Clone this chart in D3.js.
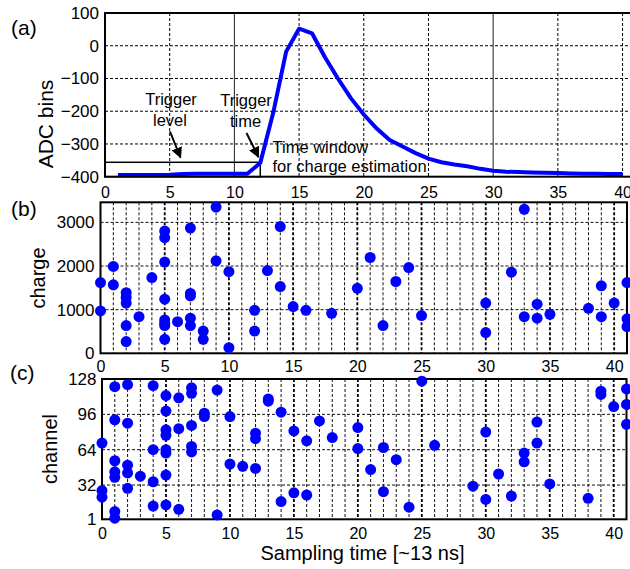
<!DOCTYPE html>
<html><head><meta charset="utf-8">
<script src="https://cdn.jsdelivr.net/npm/d3@7"></script>
<style>
html,body{margin:0;padding:0;background:#fff;}
svg{display:block;font-family:"Liberation Sans",Arial,sans-serif;}
</style></head>
<body>
<svg id="chart" width="630" height="569"></svg>
<script>
// ---- data ----
const sampleIdx = [1,2,3,4,5,6,7,8,9,10,11,12,13,14,15,16,17,18,19,20,21,22,23,24,25,26,27,28,29,30,31,32,33,34,35,36,37,38,39,40];
const adcValues = [-395,-395,-395,-395,-394,-392,-391,-391,-391,-391,-391,-358,-205,-18,52,38,-35,-100,-160,-210,-253,-288,-308,-328,-345,-356,-363,-368,-376,-382,-385,-386,-387,-388,-389,-390,-391,-391,-392,-392];
const triggerLevel = -356;
const triggerTime = 12;

const chargeT = [0,0,1,1,2,2,2,2,2,3,4,5,5,5,5,5,5,5,5,6,7,7,7,7,7,8,8,9,9,10,10,12,12,13,14,14,15,16,18,20,21,22,23,24,25,30,30,32,33,33,34,34,35,38,39,39,40,41,41,41];
const chargeQ = [1620,970,1990,1570,1390,1280,1150,635,270,840,1735,2800,2650,2090,1240,765,690,635,320,725,2870,1370,1315,805,635,510,320,3350,2120,1870,130,985,510,1895,2905,1530,1070,985,917,1490,2195,635,1645,1965,865,1150,475,1860,3300,840,1125,805,895,1030,1545,840,1150,1620,790,610];

const chanT = [0,0,0,1,1,1,1,1,1,1,2,2,2,2,2,3,4,4,4,4,5,5,5,5,5,5,5,5,6,6,6,7,7,7,7,7,8,8,9,9,10,10,11,12,12,12,13,13,14,14,15,15,16,16,17,18,20,20,21,22,22,23,24,25,26,29,30,30,31,32,33,33,34,34,35,38,39,39,40,41,41,41];
const chanC = [70,27,21,121,91,54,44,39,8,2,123,88,50,43,29,40,122,64,35,13,113,99,82,77,64,61,41,14,111,83,10,120,115,86,67,62,97,94,118,5,94,51,49,79,74,47,110,108,98,17,81,25,72,23,90,75,84,65,46,66,26,55,12,126,68,31,80,19,42,22,61,53,89,70,33,20,117,114,103,119,105,87];

const xTicks = [0,5,10,15,20,25,30,35,40];
const adcTicks = [100,0,-100,-200,-300,-400];
const chargeTicks = [0,1000,2000,3000];
const chanTicks = [1,32,64,96,128];
const minorT = [1,2,3,4,5,6,7,8,9,10,11,12,13,14,15,16,17,18,19,20,21,22,23,24,25,26,27,28,29,30,31,32,33,34,35,36,37,38,39,40];

// ---- setup ----
const svg = d3.select("#chart");
svg.append("rect").attr("width",630).attr("height",569).attr("fill","#fff");
const BLUE = "#0000ff";

const xA = d3.scaleLinear().domain([0,41]).range([105,635.5]);
const yA = d3.scaleLinear().domain([-400,100]).range([176.7,13]);
const xB = d3.scaleLinear().domain([0,41]).range([100.5,627]);
const yB = d3.scaleLinear().domain([0,3460]).range([353.3,202.3]);
const xC = d3.scaleLinear().domain([0,41]).range([102,626.5]);
const yC = d3.scaleLinear().domain([1,128]).range([519.3,379]);

function styleAxis(g, size){
  g.select(".domain").remove();
  g.selectAll(".tick line").remove();
  g.selectAll("text").attr("font-size",size).attr("fill","#000")
    .attr("font-family","'Liberation Sans',Arial,sans-serif");
}
const fmt = d3.format("d");

// ---------- Panel (a) ----------
const gA = svg.append("g");
gA.selectAll("line.vg").data(xTicks.filter(d=>d>0)).join("line")
  .attr("x1",d=>xA(d)).attr("x2",d=>xA(d)).attr("y1",yA(100)).attr("y2",yA(-400))
  .attr("stroke",d=>(d===10||d===30)?"#222":"#000")
  .attr("stroke-width",1)
  .attr("stroke-dasharray",d=>(d===10||d===30)?null:"3,2");
gA.selectAll("line.hg").data([0,-100,-200,-300]).join("line")
  .attr("x1",xA(0)).attr("x2",xA(41)).attr("y1",d=>yA(d)).attr("y2",d=>yA(d))
  .attr("stroke","#000").attr("stroke-width",1).attr("stroke-dasharray","3,2");
gA.append("rect")
  .attr("x",xA(0)).attr("y",yA(triggerLevel))
  .attr("width",xA(triggerTime)-xA(0)).attr("height",yA(-400)-yA(triggerLevel))
  .attr("fill","none").attr("stroke","#000").attr("stroke-width",1.5);
gA.append("path")
  .datum(sampleIdx.map((t,i)=>[t,adcValues[i]]))
  .attr("d",d3.line().x(d=>xA(d[0])).y(d=>yA(d[1])))
  .attr("fill","none").attr("stroke",BLUE).attr("stroke-width",4).attr("stroke-linejoin","round");
gA.append("rect").attr("x",xA(0)).attr("y",yA(100))
  .attr("width",xA(41)-xA(0)).attr("height",yA(-400)-yA(100))
  .attr("fill","none").attr("stroke","#000").attr("stroke-width",2);
gA.append("g").attr("transform",`translate(0,${yA(-400)})`)
  .call(d3.axisBottom(xA).tickValues(xTicks).tickSize(0).tickPadding(9.5)).call(g=>styleAxis(g,16));
gA.append("g").attr("transform",`translate(${xA(0)},0)`)
  .call(d3.axisLeft(yA).tickValues(adcTicks).tickSize(0).tickPadding(6)).call(g=>styleAxis(g,17));
const defs = svg.append("defs");
defs.append("marker").attr("id","ah").attr("viewBox","0 0 10 10").attr("refX",9).attr("refY",5)
  .attr("markerWidth",5.5).attr("markerHeight",5.5).attr("orient","auto")
  .append("path").attr("d","M0,0 L10,5 L0,10 z").attr("fill","#000");
const arrows = [[170,131.5,180.5,157.5],[246.5,133,258.5,157]];
gA.selectAll("line.arr").data(arrows).join("line")
  .attr("x1",d=>d[0]).attr("y1",d=>d[1]).attr("x2",d=>d[2]).attr("y2",d=>d[3])
  .attr("stroke","#000").attr("stroke-width",2).attr("marker-end","url(#ah)");
const ann = [
  {t:"Trigger",x:171,y:105,a:"middle"},
  {t:"level",x:170,y:126,a:"middle"},
  {t:"Trigger",x:246,y:105.5,a:"middle"},
  {t:"time",x:245.5,y:127,a:"middle"},
  {t:"Time window",x:272.5,y:152.5,a:"start"},
  {t:"for charge estimation",x:272.5,y:172,a:"start"}
];
gA.selectAll("text.ann").data(ann).join("text")
  .attr("x",d=>d.x).attr("y",d=>d.y).attr("text-anchor",d=>d.a)
  .attr("font-size",16.5).attr("fill","#000").text(d=>d.t);
gA.append("text").attr("x",11).attr("y",35).attr("font-size",21).text("(a)");
gA.append("text").attr("transform","translate(53,124) rotate(-90)").attr("text-anchor","middle")
  .attr("font-size",21).text("ADC bins");

function gridBC(g, x, y, hLines, y0, y1){
  g.selectAll("line.vm").data(minorT).join("line")
    .attr("x1",d=>x(d)).attr("x2",d=>x(d)).attr("y1",y(y1)).attr("y2",y(y0))
    .attr("stroke",d=>d%5===0?"#000":"#111")
    .attr("stroke-width",d=>d%5===0?1.8:1)
    .attr("stroke-dasharray","3,2");
  g.selectAll("line.hm").data(hLines).join("line")
    .attr("x1",x(0)).attr("x2",x(41)).attr("y1",d=>y(d)).attr("y2",d=>y(d))
    .attr("stroke","#111").attr("stroke-width",1).attr("stroke-dasharray","3,2");
}

// ---------- Panel (b) ----------
const gB = svg.append("g");
gridBC(gB, xB, yB, [1000,2000,3000], 0, 3460);
gB.append("rect").attr("x",xB(0)).attr("y",yB(3460))
  .attr("width",xB(41)-xB(0)).attr("height",yB(0)-yB(3460))
  .attr("fill","none").attr("stroke","#000").attr("stroke-width",2);
gB.append("g").attr("transform",`translate(0,${yB(0)})`)
  .call(d3.axisBottom(xB).tickValues(xTicks).tickSize(0).tickPadding(7)).call(g=>styleAxis(g,16));
gB.append("g").attr("transform",`translate(${xB(0)},0)`)
  .call(d3.axisLeft(yB).tickValues(chargeTicks).tickFormat(fmt).tickSize(0).tickPadding(6)).call(g=>styleAxis(g,17));
gB.selectAll("circle").data(chargeT.map((t,i)=>[t,chargeQ[i]])).join("circle")
  .attr("cx",d=>xB(d[0])).attr("cy",d=>yB(d[1])).attr("r",5.5).attr("fill",BLUE);
gB.append("text").attr("x",11).attr("y",216).attr("font-size",21).text("(b)");
gB.append("text").attr("transform","translate(45,278) rotate(-90)").attr("text-anchor","middle")
  .attr("font-size",20).text("charge");

// ---------- Panel (c) ----------
const gC = svg.append("g");
gridBC(gC, xC, yC, [32,64,96], 1, 128);
gC.append("rect").attr("x",xC(0)).attr("y",yC(128))
  .attr("width",xC(41)-xC(0)).attr("height",yC(1)-yC(128))
  .attr("fill","none").attr("stroke","#000").attr("stroke-width",2);
gC.append("g").attr("transform",`translate(0,${yC(1)})`)
  .call(d3.axisBottom(xC).tickValues(xTicks).tickSize(0).tickPadding(8)).call(g=>styleAxis(g,16));
gC.append("g").attr("transform",`translate(${xC(0)},0)`)
  .call(d3.axisLeft(yC).tickValues(chanTicks).tickSize(0).tickPadding(5.5)).call(g=>styleAxis(g,17));
gC.selectAll("circle").data(chanT.map((t,i)=>[t,chanC[i]])).join("circle")
  .attr("cx",d=>xC(d[0])).attr("cy",d=>yC(d[1])).attr("r",5.5).attr("fill",BLUE);
gC.append("text").attr("x",10).attr("y",380).attr("font-size",21).text("(c)");
gC.append("text").attr("transform","translate(56.5,449) rotate(-90)").attr("text-anchor","middle")
  .attr("font-size",20).text("channel");
gC.append("text").attr("x",362.5).attr("y",560).attr("text-anchor","middle")
  .attr("font-size",20).text("Sampling time [~13 ns]");
</script>
</body></html>
